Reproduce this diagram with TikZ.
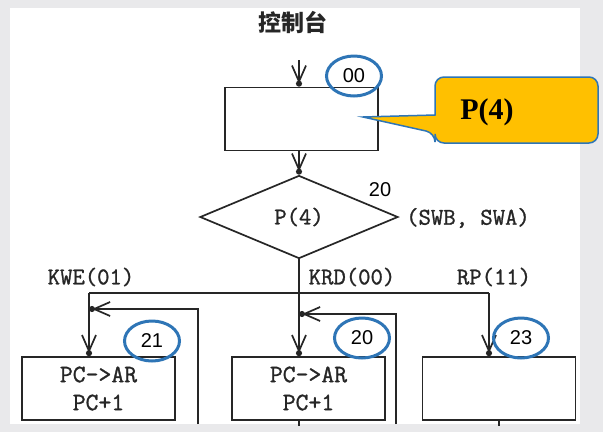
\documentclass[tikz,border=0pt]{standalone}
\usepackage{fontspec}
\newfontfamily\cjkfont{Noto Sans CJK SC}
\newfontfamily\numfont{Liberation Sans}
\newfontfamily\tagfont{Liberation Serif}
\newfontfamily\codefont{Latin Modern Mono}[FakeBold=1.2]
\usetikzlibrary{arrows.meta,shapes.geometric}
\definecolor{ringblue}{HTML}{2E75B6}
\definecolor{noteyellow}{HTML}{FFC000}
\definecolor{backgray}{HTML}{E9E9EB}

\begin{document}
\begin{tikzpicture}[x=1pt,y=-1pt,
  line/.style={line width=1.7pt, black!85},
  flow/.style={line, -{Straight Barb[length=16pt,width=14pt,sep=-3pt]Circle[length=6pt]}},
  unit/.style={draw, line, minimum width=153pt, minimum height=63pt, inner sep=0pt,
    font=\codefont\fontsize{25}{28}\selectfont, align=center},
  ring/.style={ellipse, draw=ringblue, line width=3pt, minimum width=55pt,
    minimum height=40pt, inner sep=0pt, font=\numfont\fontsize{20}{22}\selectfont},
  code/.style={font=\codefont\fontsize{24}{26}\selectfont, black!85}]
  % Background
  \fill[backgray] (0,0) rectangle (603,432);
  \fill[white] (10,8) rectangle (580,424);
  \useasboundingbox (0,0) rectangle (603,432);

  % Console and first step
  \node[font=\cjkfont\bfseries\fontsize{23}{25}\selectfont, black!85] (console) at (293,22) {控制台};
  \node[unit] (fetch) at (301.5,119) {};
  \coordinate (entry) at (299,60);
  \draw[flow] (entry) -- (entry |- fetch.north);
  \node[ring] (r00) at (354,76) {00};

  % Test on P(4)
  \node[draw, line, diamond, minimum width=198pt, minimum height=83pt, inner sep=0pt, code]
    (test) at (299,217) {P(4)};
  \draw[flow] (fetch.south -| test.north) -- (test.north);
  \node[font=\numfont\fontsize{20}{22}\selectfont] (n20) at (380,190) {20};
  \node[code] (sw) at (468,218) {(SWB, SWA)};

  % Branches
  \node[unit] (kwe) at (98.5,388.5) {PC->AR\\PC+1};
  \node[unit] (krd) at (308.5,388.5) {PC->AR\\PC+1};
  \node[unit] (rp) at (499,388.5) {};
  \coordinate (kwein) at ([xshift=-9.5pt]kwe.north);
  \coordinate (krdin) at ([xshift=-9.5pt]krd.north);
  \coordinate (rpin) at ([xshift=-10pt]rp.north);
  \coordinate (bus) at (299,293);
  \draw[line] (kwein |- bus) -- (rpin |- bus);
  \draw[flow] (kwein |- bus) -- (kwein);
  \draw[flow] (test.south) -- (krdin);
  \draw[flow] (rpin |- bus) -- (rpin);
  \node[code] (lkwe) at (91,277) {KWE(01)};
  \node[code] (lkrd) at (352,277) {KRD(00)};
  \node[code] (lrp) at (494,277) {RP(11)};

  % Loops back
  \coordinate (kweback) at (198,424);
  \coordinate (kweloop) at (198,309);
  \coordinate (krdback) at (396,424);
  \coordinate (krdloop) at (396,314);
  \draw[flow] (kweback) -- (kweloop) -- (kweloop -| kwein);
  \draw[flow] (krdback) -- (krdloop) -- (krdloop -| krdin);
  \draw[line] (krdin |- krd.south) -- ++(0,5);
  \draw[line] (rp.south) -- ++(0,5);

  % Microaddresses
  \node[ring] (r21) at (152,341) {21};
  \node[ring] (r20) at (362,338) {20};
  \node[ring] (r23) at (521,338) {23};

  % Callout
  \draw[ringblue, line width=1.5pt, fill=noteyellow, rounded corners=9pt]
    (435,77) -- (598,77) -- (598,143) -- (435,143) -- (435,133) [sharp corners]
    -- (363,117) -- (435,115) [rounded corners=9pt] -- cycle;
  \node[font=\tagfont\bfseries\fontsize{30}{32}\selectfont] (tag) at (487,112) {P(4)};
\end{tikzpicture}
\end{document}
